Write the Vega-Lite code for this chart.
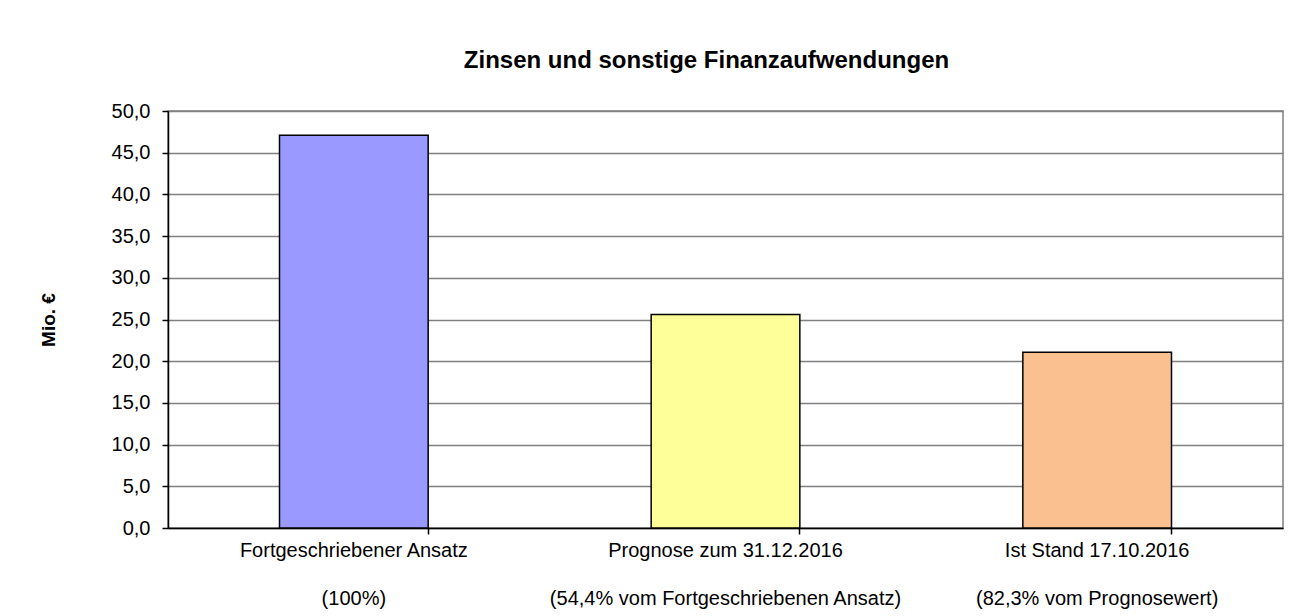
{
  "$schema": "https://vega.github.io/schema/vega-lite/v6.json",
  "width": 1115,
  "height": 417,
  "autosize": {"type": "none"},
  "padding": {"left": 168, "top": 111, "right": 31, "bottom": 88},
  "background": "white",
  "title": {
    "text": "Zinsen und sonstige Finanzaufwendungen",
    "font": "Liberation Sans",
    "fontSize": 24,
    "fontWeight": "bold",
    "color": "black",
    "anchor": "middle",
    "baseline": "alphabetic",
    "offset": 9,
    "dx": -19
  },
  "data": {
    "values": [
      {"kategorie": "Fortgeschriebener Ansatz|(100%)", "wert": 47.1},
      {"kategorie": "Prognose zum 31.12.2016|(54,4% vom Fortgeschriebenen Ansatz)", "wert": 25.6},
      {"kategorie": "Ist Stand 17.10.2016|(82,3% vom Prognosewert)", "wert": 21.07}
    ]
  },
  "config": {
    "view": {"stroke": "#808080", "strokeWidth": 1.5},
    "font": "Liberation Sans"
  },
  "resolve": {"axis": {"x": "independent"}},
  "layer": [
    {
      "mark": {"type": "bar", "stroke": "black", "strokeWidth": 1.5},
      "encoding": {
        "x": {
          "field": "kategorie",
          "type": "nominal",
          "sort": null,
          "scale": {"paddingInner": 0.6, "paddingOuter": 0.3},
          "axis": {
            "orient": "bottom",
            "title": null,
            "labelAngle": 0,
            "labelExpr": "split(datum.label, '|')",
            "labelFont": "Liberation Sans",
            "labelFontSize": 20,
            "labelColor": "black",
            "labelLineHeight": 48,
            "labelPadding": 12,
            "labelBaseline": "top",
            "labelLimit": 0,
            "ticks": false,
            "domain": true,
            "domainColor": "black",
            "domainWidth": 1.5,
            "grid": false
          }
        },
        "y": {
          "field": "wert",
          "type": "quantitative",
          "scale": {"domain": [0, 50], "nice": false},
          "axis": {
            "title": "Mio. €",
            "titleFont": "Liberation Sans",
            "titleFontSize": 19,
            "titleFontWeight": "bold",
            "titleColor": "black",
            "titleX": -120,
            "titleY": 208.5,
            "titleAngle": -90,
            "titleAlign": "center",
            "titleBaseline": "middle",
            "values": [0, 5, 10, 15, 20, 25, 30, 35, 40, 45, 50],
            "labelExpr": "replace(format(datum.value, '.1f'), '.', ',')",
            "labelFont": "Liberation Sans",
            "labelFontSize": 20,
            "labelColor": "black",
            "labelPadding": 12,
            "tickColor": "black",
            "tickSize": 6,
            "tickWidth": 1.5,
            "domainColor": "black",
            "domainWidth": 1.5,
            "grid": true,
            "gridColor": "#808080",
            "gridWidth": 1.5
          }
        },
        "color": {
          "field": "kategorie",
          "type": "nominal",
          "sort": null,
          "scale": {"range": ["#9999FF", "#FFFF99", "#FAC090"]},
          "legend": null
        }
      }
    },
    {
      "mark": {"type": "bar", "opacity": 0},
      "encoding": {
        "x": {
          "field": "kategorie",
          "type": "nominal",
          "sort": null,
          "axis": {
            "orient": "bottom",
            "title": null,
            "labels": false,
            "domain": false,
            "grid": false,
            "ticks": true,
            "bandPosition": 1,
            "tickColor": "black",
            "tickSize": 6,
            "tickWidth": 1.5
          }
        },
        "y": {"field": "wert", "type": "quantitative"}
      }
    }
  ]
}
